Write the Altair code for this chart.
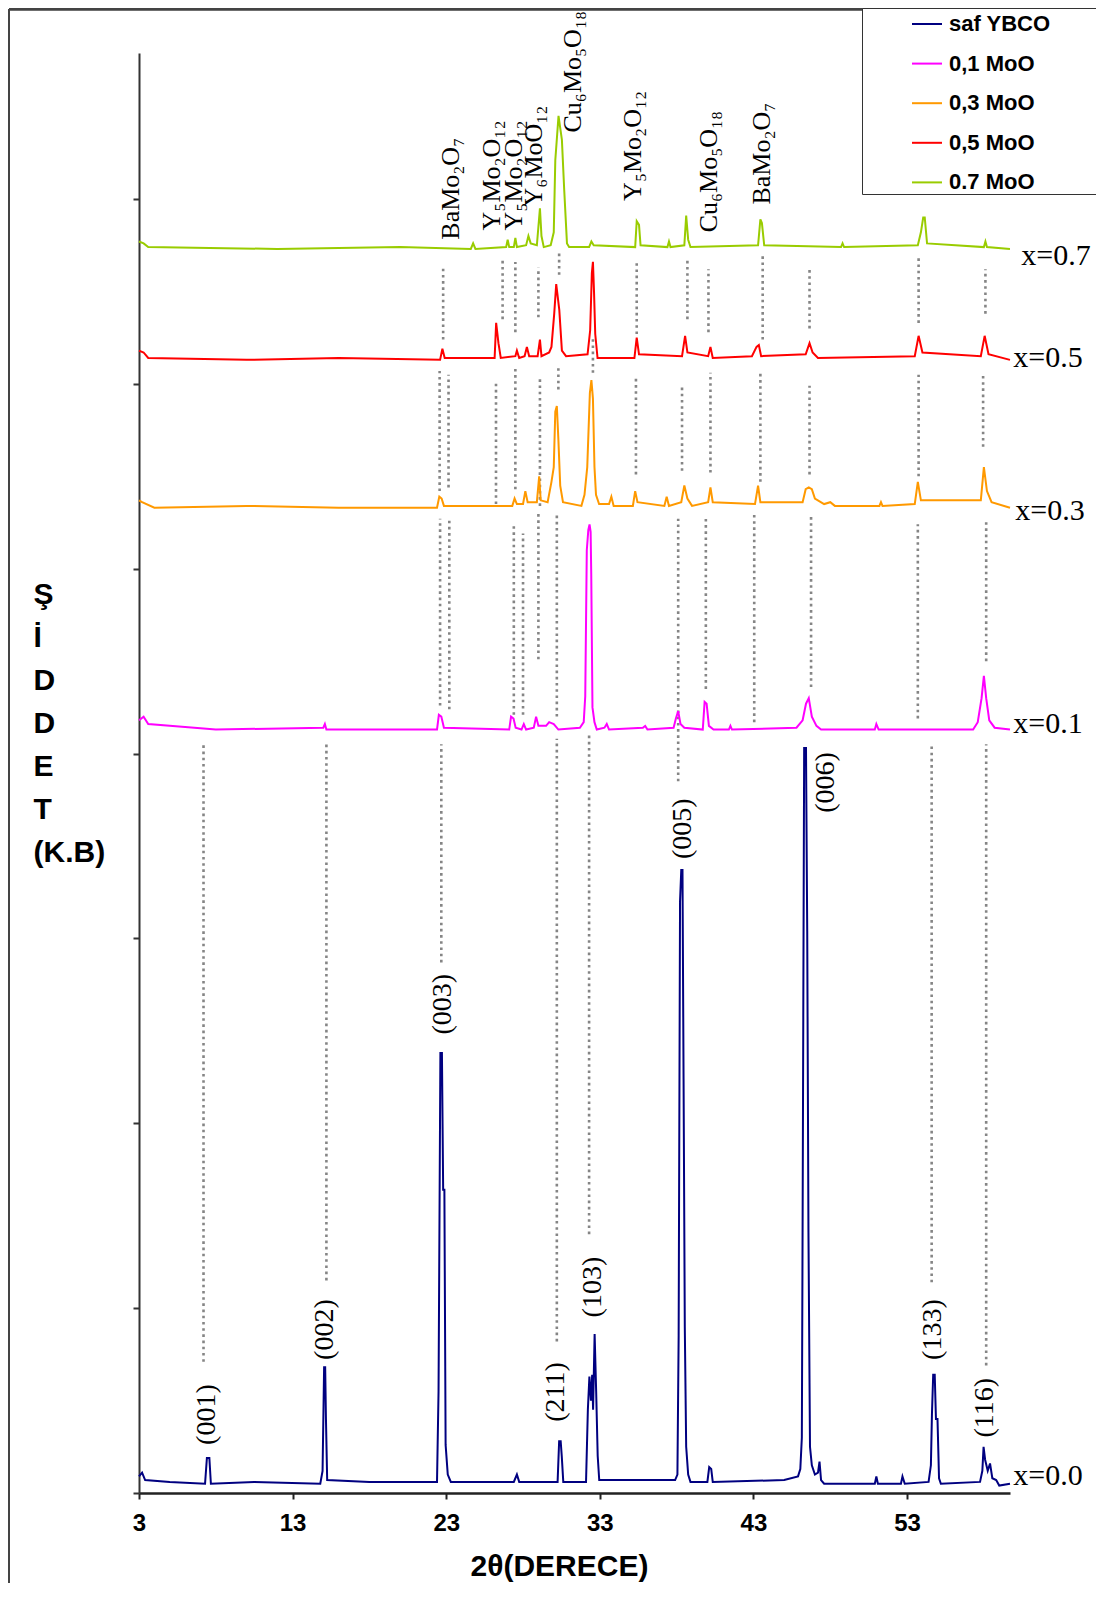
import altair as alt
import pandas as pd

# ---------------- data ----------------
series_names = ["saf YBCO", "0,1 MoO", "0,3 MoO", "0,5 MoO", "0.7 MoO"]
series_colors = ["#000080", "#FF00FF", "#FF9900", "#FF0000", "#99CC00"]

# (2theta, intensity in a.u. incl. vertical offset)
saf_ybco = [(3.0,0.09),(3.2,0.11),(3.4,0.07),(5.0,0.06),(7.3,0.05),(7.42,0.19),(7.58,0.19),(7.68,0.05),
    (10.5,0.06),(14.8,0.05),(14.95,0.12),(15.05,0.68),(15.12,0.68),(15.17,0.40),(15.25,0.07),(18.0,0.06),
    (22.4,0.06),(22.5,0.55),(22.62,2.38),(22.72,2.38),(22.8,1.64),(22.88,1.64),(22.96,0.26),(23.1,0.10),
    (23.3,0.06),(27.4,0.06),(27.6,0.10),(27.75,0.06),(30.25,0.06),(30.35,0.28),(30.45,0.28),(30.52,0.20),
    (30.62,0.06),(32.1,0.06),(32.22,0.45),(32.32,0.63),(32.42,0.50),(32.5,0.64),(32.56,0.45),(32.66,0.86),
    (32.76,0.55),(32.86,0.20),(32.96,0.07),(37.9,0.07),(38.05,0.10),(38.13,0.85),(38.22,3.20),(38.3,3.37),
    (38.38,3.37),(38.45,2.24),(38.53,0.90),(38.62,0.25),(38.75,0.10),(38.9,0.06),(40.0,0.06),(40.12,0.14),
    (40.25,0.13),(40.35,0.06),(45.0,0.07),(45.9,0.09),(46.05,0.13),(46.15,0.30),(46.2,1.47),(46.3,4.03),
    (46.42,4.03),(46.5,3.04),(46.58,1.41),(46.68,0.25),(46.8,0.15),(47.0,0.10),(47.2,0.11),(47.3,0.17),
    (47.4,0.07),(47.6,0.05),(50.9,0.05),(51.0,0.09),(51.1,0.05),(52.6,0.05),(52.7,0.09),(52.85,0.05),
    (54.4,0.06),(54.55,0.15),(54.62,0.43),(54.7,0.64),(54.8,0.64),(54.88,0.40),(54.98,0.40),(55.08,0.08),
    (55.2,0.05),(57.75,0.06),(57.9,0.12),(57.98,0.25),(58.08,0.18),(58.25,0.12),(58.4,0.16),(58.55,0.08),
    (58.8,0.07),(59.0,0.04),(59.7,0.05)]

mo_01 = [(3.0,4.18),(3.3,4.20),(3.6,4.16),(5.0,4.15),(8.0,4.13),(15.0,4.14),(15.1,4.16),(15.2,4.13),
    (22.4,4.13),(22.52,4.21),(22.68,4.20),(22.85,4.14),(27.1,4.13),(27.22,4.20),(27.38,4.19),(27.52,4.14),
    (27.9,4.13),(28.05,4.16),(28.2,4.13),(28.7,4.14),(28.85,4.20),(29.0,4.15),(29.5,4.15),(29.7,4.17),
    (30.0,4.16),(30.3,4.13),(31.7,4.14),(31.95,4.17),(32.05,4.31),(32.15,5.10),(32.25,5.21),(32.33,5.24),
    (32.4,5.20),(32.44,4.97),(32.52,4.25),(32.65,4.17),(32.8,4.13),(33.3,4.14),(33.45,4.16),(33.6,4.13),
    (35.8,4.14),(35.95,4.15),(36.1,4.13),(37.8,4.14),(37.95,4.19),(38.1,4.23),(38.25,4.16),(38.5,4.14),
    (39.7,4.13),(39.82,4.28),(39.95,4.27),(40.1,4.15),(40.4,4.13),(41.4,4.13),(41.5,4.15),(41.6,4.13),
    (45.8,4.14),(46.2,4.18),(46.42,4.27),(46.6,4.30),(46.8,4.20),(47.1,4.15),(47.4,4.13),(50.9,4.13),
    (51.0,4.16),(51.15,4.13),(57.3,4.13),(57.6,4.17),(57.85,4.30),(58.0,4.42),(58.15,4.30),(58.35,4.18),
    (58.7,4.14),(59.7,4.13)]

mo_03 = [(3.0,5.37),(3.2,5.36),(4.0,5.33),(10.0,5.34),(16.0,5.33),(22.4,5.33),(22.55,5.39),(22.7,5.38),
    (22.85,5.34),(27.3,5.34),(27.45,5.38),(27.6,5.35),(28.0,5.35),(28.15,5.42),(28.3,5.36),(28.9,5.36),
    (29.05,5.50),(29.15,5.37),(29.6,5.36),(29.85,5.47),(30.0,5.55),(30.1,5.85),(30.2,5.88),(30.3,5.70),
    (30.42,5.45),(30.6,5.36),(31.8,5.34),(32.0,5.40),(32.18,5.55),(32.35,5.95),(32.45,6.02),(32.55,5.92),
    (32.65,5.55),(32.75,5.40),(32.95,5.35),(33.6,5.35),(33.75,5.39),(33.9,5.34),(35.15,5.34),(35.3,5.42),
    (35.45,5.36),(37.2,5.34),(37.35,5.39),(37.5,5.34),(38.3,5.36),(38.5,5.45),(38.7,5.38),(39.0,5.34),
    (40.05,5.36),(40.2,5.44),(40.35,5.36),(43.1,5.35),(43.3,5.45),(43.45,5.36),(46.2,5.36),(46.4,5.43),
    (46.6,5.44),(46.8,5.43),(47.0,5.38),(47.6,5.35),(48.0,5.36),(48.3,5.34),(51.2,5.34),(51.3,5.36),
    (51.4,5.34),(53.5,5.35),(53.7,5.47),(53.9,5.37),(57.8,5.37),(58.0,5.55),(58.2,5.42),(58.5,5.36),
    (59.7,5.33)]

mo_05 = [(3.0,6.18),(3.3,6.17),(3.6,6.14),(10.0,6.13),(16.0,6.14),(22.6,6.13),(22.75,6.19),(22.9,6.14),
    (26.15,6.14),(26.25,6.33),(26.4,6.22),(26.55,6.14),(27.5,6.15),(27.6,6.18),(27.75,6.14),(28.1,6.15),
    (28.25,6.20),(28.4,6.15),(28.95,6.15),(29.1,6.24),(29.2,6.15),(29.7,6.17),(29.85,6.20),(30.03,6.38),
    (30.16,6.54),(30.36,6.40),(30.53,6.18),(30.8,6.15),(32.2,6.16),(32.37,6.29),(32.48,6.60),(32.55,6.66),
    (32.62,6.50),(32.7,6.27),(32.85,6.14),(35.25,6.14),(35.4,6.25),(35.55,6.16),(38.35,6.15),(38.55,6.26),
    (38.7,6.17),(40.05,6.15),(40.2,6.20),(40.35,6.14),(42.9,6.15),(43.2,6.20),(43.35,6.21),(43.5,6.15),
    (46.4,6.16),(46.65,6.22),(46.85,6.17),(47.2,6.14),(53.5,6.15),(53.75,6.26),(54.0,6.17),(57.8,6.15),
    (58.05,6.26),(58.3,6.16),(59.7,6.13)]

mo_07 = [(3.0,6.77),(3.3,6.76),(3.6,6.74),(12.0,6.73),(20.0,6.74),(24.6,6.73),(24.75,6.76),(24.9,6.73),
    (26.9,6.74),(27.0,6.78),(27.1,6.74),(27.4,6.74),(27.5,6.79),(27.6,6.74),(28.2,6.75),(28.35,6.80),
    (28.5,6.76),(28.9,6.75),(29.0,6.85),(29.1,6.95),(29.2,6.80),(29.35,6.74),(29.8,6.75),(30.0,6.82),
    (30.1,7.21),(30.31,7.45),(30.53,7.32),(30.68,7.05),(30.86,6.76),(31.0,6.74),(32.3,6.74),(32.45,6.77),
    (32.6,6.75),(35.3,6.74),(35.4,6.88),(35.55,6.86),(35.65,6.75),(37.4,6.74),(37.5,6.77),(37.6,6.74),
    (38.5,6.75),(38.62,6.91),(38.75,6.78),(38.9,6.74),(43.3,6.75),(43.45,6.89),(43.55,6.87),(43.7,6.75),
    (48.7,6.74),(48.8,6.76),(48.9,6.74),(53.7,6.75),(53.9,6.82),(54.05,6.90),(54.15,6.90),(54.3,6.76),
    (58.0,6.74),(58.1,6.77),(58.2,6.74),(59.7,6.73)]

# dotted guide lines: 2theta, lower level, upper level
guide_theta = [7.2, 15.2, 22.68, 30.2, 32.3, 38.1, 54.6, 58.15,
               22.6, 23.2, 27.4, 28.0, 29.0, 30.2, 39.9, 43.05, 46.75, 53.7, 58.15,
               22.57, 23.15, 26.24, 27.5, 29.1, 30.3, 32.55, 35.35, 38.35, 40.2, 43.45, 46.65, 53.75, 57.95,
               22.8, 26.67, 27.5, 29.0, 30.35, 35.4, 38.7, 40.07, 43.6, 46.65, 53.75, 58.1]
guide_low = [0.71, 1.15, 2.87, 0.82, 1.40, 3.85, 1.14, 0.69,
             4.26, 4.24, 4.21, 4.21, 4.51, 4.20, 4.35, 4.17, 4.36, 4.19, 4.50,
             5.42, 5.44, 5.35, 5.43, 5.34, 5.97, 6.06, 5.51, 5.53, 5.52, 5.47, 5.51, 5.50, 5.66,
             6.24, 6.35, 6.28, 6.36, 6.59, 6.27, 6.35, 6.28, 6.24, 6.30, 6.33, 6.38]
guide_high = [4.06, 4.05, 4.05, 4.08, 4.10, 5.27, 4.05, 4.05,
              5.27, 5.27, 5.25, 5.19, 5.31, 5.30, 5.28, 5.30, 5.28, 5.24, 5.27,
              6.07, 6.05, 6.02, 6.08, 6.04, 6.09, 6.25, 6.04, 5.98, 6.06, 6.06, 5.99, 6.05, 6.05,
              6.63, 6.68, 6.66, 6.63, 6.71, 6.66, 6.68, 6.62, 6.69, 6.63, 6.69, 6.62]

hkl_labels = ["(001)", "(002)", "(003)", "(211)", "(103)", "(005)", "(006)", "(133)", "(116)"]
hkl_theta = [7.41, 15.1, 22.77, 30.16, 32.57, 38.43, 47.73, 54.67, 58.1]
hkl_level = [0.26, 0.72, 2.48, 0.385, 0.95, 3.43, 3.68, 0.72, 0.30]

phase_labels = ["BaMo₂O₇", "Y₅Mo₂O₁₂", "Y₅Mo₂O₁₂", "Y₆MoO₁₂", "Cu₆Mo₅O₁₈", "Y₅Mo₂O₁₂", "Cu₆Mo₅O₁₈", "BaMo₂O₇"]
phase_theta = [23.31, 25.97, 27.43, 28.73, 31.27, 35.17, 40.12, 43.57]
phase_level = [6.78, 6.83, 6.83, 6.96, 7.36, 6.99, 6.82, 6.97]

sample_labels = ["x=0.0", "x=0.1", "x=0.3", "x=0.5", "x=0.7"]
sample_theta = [59.91, 59.91, 60.04, 59.91, 60.44]
sample_level = [0.09, 4.16, 5.31, 6.14, 6.69]

x_ticks = [3, 13, 23, 33, 43, 53]
y_ticks = [0, 1, 2, 3, 4, 5, 6, 7]

# ---------------- tables ----------------
rows = []
for name, pts in zip(series_names, [saf_ybco, mo_01, mo_03, mo_05, mo_07]):
    for i, (t, v) in enumerate(pts):
        rows.append({"seri": name, "theta": t, "siddet": v, "idx": i})
curves = pd.DataFrame(rows)
guides = pd.DataFrame({"theta": guide_theta, "lo": guide_low, "hi": guide_high})
hkl = pd.DataFrame({"label": hkl_labels, "theta": hkl_theta, "level": hkl_level})
phases = pd.DataFrame({"label": phase_labels, "theta": phase_theta, "level": phase_level})
samples = pd.DataFrame({"label": sample_labels, "theta": sample_theta, "level": sample_level})

xscale = alt.Scale(domain=[3, 59.7], nice=False, zero=False)
yscale = alt.Scale(domain=[0, 7.79], nice=False, zero=False)

SANS = "Liberation Sans"
SERIF = "Liberation Serif"
# padding at the end of legend labels so the legend box reaches the right edge
# (U+2800 is a blank glyph that is not trimmed as whitespace)
pad = "\u00a0" * 5 + "\u2800"

x_axis = alt.Axis(values=x_ticks, title="2θ(DERECE)", grid=False, labelFlush=False, labelOverlap=False,
                  labelFont=SANS, labelFontSize=24, labelFontWeight="bold", labelColor="black",
                  labelPadding=12, tickSize=6, tickColor="#222", tickWidth=2,
                  domainColor="#222", domainWidth=2.5,
                  titleFont=SANS, titleFontSize=30, titleFontWeight="bold", titleColor="black",
                  titleX=420, titleY=73, titleAlign="center", titleBaseline="middle")
y_axis = alt.Axis(values=y_ticks, labels=False, grid=False, tickSize=6, tickColor="#333", tickWidth=2,
                  domainColor="#333", domainWidth=2,
                  title=["Ş", "İ", "D", "D", "E", "T", "(K.B)"], titleAngle=0, titleAlign="left",
                  titleBaseline="top", titleX=-106, titleY=526, titleLineHeight=43,
                  titleFont=SANS, titleFontSize=30, titleFontWeight="bold", titleColor="black")

base = alt.Chart(curves)

guide_layer = alt.Chart(guides).mark_rule(color="#858585", strokeWidth=2.6, strokeDash=[2.6, 3.6]).encode(
    x=alt.X("theta:Q", scale=xscale, axis=x_axis),
    y=alt.Y("lo:Q", scale=yscale, axis=y_axis),
    y2="hi:Q",
)

line_layer = base.mark_line(strokeWidth=2).encode(
    x=alt.X("theta:Q", scale=xscale),
    y=alt.Y("siddet:Q", scale=yscale),
    order="idx:Q",
    color=alt.Color("seri:N", scale=alt.Scale(domain=series_names, range=series_colors),
                    legend=alt.Legend(orient="none", legendX=723, legendY=-45, title=None,
                                      symbolType="stroke", symbolSize=900, symbolStrokeWidth=2,
                                      symbolOffset=49, labelOffset=6, rowPadding=12.6, padding=0,
                                      strokeColor="#333", fillColor="white",
                                      labelFont=SANS, labelFontSize=22, labelFontWeight="bold",
                                      labelColor="black", labelLimit=400,
                                      labelExpr="datum.label + '" + pad + "'")),
)

hkl_layer = alt.Chart(hkl).mark_text(angle=270, align="left", baseline="middle", font=SERIF,
                                     fontSize=28, color="black").encode(
    x=alt.X("theta:Q", scale=xscale), y=alt.Y("level:Q", scale=yscale), text="label:N")

phase_layer = alt.Chart(phases).mark_text(angle=270, align="left", baseline="middle", font=SERIF,
                                          fontSize=26, color="black").encode(
    x=alt.X("theta:Q", scale=xscale), y=alt.Y("level:Q", scale=yscale), text="label:N")

sample_layer = alt.Chart(samples).mark_text(align="left", baseline="middle", font=SERIF,
                                            fontSize=30, color="black").encode(
    x=alt.X("theta:Q", scale=xscale), y=alt.Y("level:Q", scale=yscale), text="label:N")

# outer frame of the picture (decoration)
frame_left = alt.Chart(samples).mark_rule(color="#444", strokeWidth=2).encode(
    x=alt.value(-130), y=alt.value(-44), y2=alt.value(1536))
frame_top = alt.Chart(samples).mark_rule(color="#444", strokeWidth=2.5).encode(
    x=alt.value(-130), x2=alt.value(957), y=alt.value(-44))
frame_bottom = alt.Chart(samples).mark_rule(color="#444", strokeWidth=2).encode(
    x=alt.value(-130), x2=alt.value(957), y=alt.value(1536))

chart = alt.layer(guide_layer, line_layer, hkl_layer, phase_layer, sample_layer,
                  frame_left, frame_top, frame_bottom).properties(
    width=871, height=1440,
    autosize=alt.AutoSizeParams(type="none"),
    padding={"left": 131, "top": 45, "right": 86, "bottom": 90},
).configure_view(stroke=None)

chart.save("out.html", embed_options={"renderer": "svg", "actions": False})
